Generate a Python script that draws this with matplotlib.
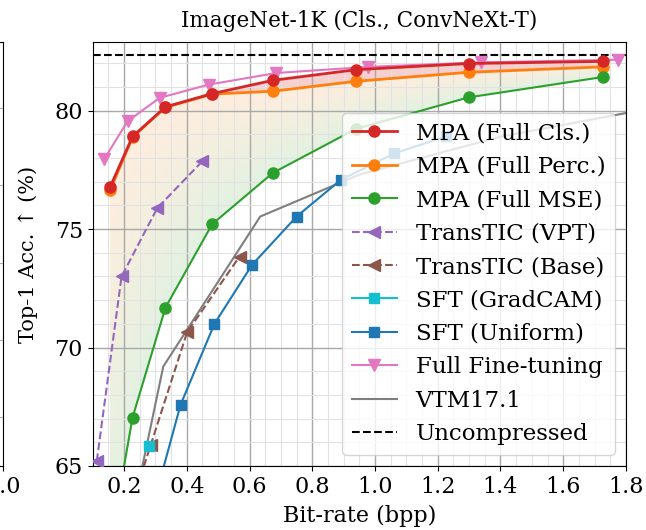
import numpy as np
import matplotlib.pyplot as plt
from matplotlib.colors import to_rgb
from matplotlib.ticker import MultipleLocator

plt.rcParams['font.family'] = ['DejaVu Serif', 'DejaVu Sans']
plt.rcParams['font.size'] = 16

# bit-rate (bpp) vs top-1 accuracy (%)
mpa_bpp = [0.155, 0.227, 0.332, 0.481, 0.674, 0.939, 1.298, 1.726]
mpa_cls = [76.76, 78.91, 80.16, 80.72, 81.28, 81.73, 81.99, 82.08]
mpa_perc = [76.63, 78.88, 80.14, 80.70, 80.82, 81.24, 81.62, 81.85]
mpa_mse = [61.6, 67.04, 71.69, 75.21, 77.37, 79.23, 80.56, 81.42]

vpt_bpp = [0.113, 0.192, 0.306, 0.449]
vpt_acc = [65.21, 73.0, 75.89, 77.86]

base_bpp = [0.22, 0.285, 0.401, 0.568]
base_acc = [63.2, 65.89, 70.65, 73.84]

gradcam_bpp = [0.279]
gradcam_acc = [65.86]

uniform_bpp = [0.29, 0.380, 0.488, 0.608, 0.750, 0.891, 1.062, 1.226]
uniform_acc = [63.2, 67.58, 71.0, 73.49, 75.53, 77.08, 78.2, 78.91]

fft_bpp = [0.137, 0.211, 0.313, 0.470, 0.685, 0.978, 1.338, 1.775]
fft_acc = [77.96, 79.55, 80.54, 81.10, 81.59, 81.85, 82.04, 82.15]

vtm_bpp = [0.23, 0.325, 0.634, 0.95, 1.4, 2.0]
vtm_acc = [63.2, 69.2, 75.53, 77.3, 78.9, 80.4]

uncompressed = 82.35

fig = plt.figure(figsize=(6.46, 5.30), dpi=100)

# right edge of the neighbouring panel
left = fig.add_axes([-0.5, 0.1208, 0.5046, 0.80])
left.set_xlim(0.0, 1.0)
left.set_ylim(0, 424)
left.set_xticks([1.0], ['1.0'])
left.set_yticks([49, 126, 203, 281, 358])
left.grid(True, color='#b0b0b0', lw=0.8)
left.tick_params(labelsize=16, labelleft=False)

ax = fig.add_axes([0.1435, 0.1208, 0.8255, 0.80])

# gradient band between the perceptual and MSE curves
c_top = np.array(to_rgb('C1'))
c_bot = np.array(to_rgb('C2'))
gx = np.linspace(mpa_bpp[0], mpa_bpp[-1], 700)
gy = np.linspace(60, 83, 700)
X, Y = np.meshgrid(gx, gy)
top = np.interp(X, mpa_bpp, mpa_perc)
bot = np.interp(X, mpa_bpp, mpa_mse)
t = (top - Y) / (top - bot)
img = np.zeros(X.shape + (4,))
img[..., :3] = c_top + np.clip(t, 0, 1)[..., None] * (c_bot - c_top)
img[..., 3] = np.where((t >= 0) & (t <= 1), 0.14, 0.0)
ax.imshow(img, extent=(gx[0], gx[-1], gy[0], gy[-1]), origin='lower',
          aspect='auto', interpolation='bilinear', zorder=1)
ax.fill_between(mpa_bpp, mpa_perc, mpa_cls, color='C3', alpha=0.22, lw=0, zorder=1)

ax.plot(mpa_bpp, mpa_cls, '-o', color='C3', lw=2, ms=8, label='MPA (Full Cls.)', zorder=5)
ax.plot(mpa_bpp, mpa_perc, '-o', color='C1', lw=2, ms=8, label='MPA (Full Perc.)', zorder=4)
ax.plot(mpa_bpp, mpa_mse, '-o', color='C2', lw=1.5, ms=8, label='MPA (Full MSE)', zorder=4)
ax.plot(vpt_bpp, vpt_acc, '--<', color='C4', lw=1.5, ms=8, label='TransTIC (VPT)', zorder=3)
ax.plot(base_bpp, base_acc, '--<', color='C5', lw=1.5, ms=8, label='TransTIC (Base)', zorder=3)
ax.plot(gradcam_bpp, gradcam_acc, '-s', color='C9', lw=1.5, ms=7.5, label='SFT (GradCAM)', zorder=3)
ax.plot(uniform_bpp, uniform_acc, '-s', color='C0', lw=1.5, ms=7.5, label='SFT (Uniform)', zorder=3)
ax.plot(fft_bpp, fft_acc, '-v', color='C6', lw=1.5, ms=8, label='Full Fine-tuning', zorder=3)
ax.plot(vtm_bpp, vtm_acc, '-', color='C7', lw=1.5, label='VTM17.1', zorder=2)
ax.axhline(uncompressed, color='black', ls='--', lw=1.5, label='Uncompressed', zorder=2)

ax.set_xlim(0.1, 1.8)
ax.set_ylim(65, 82.9)
ax.xaxis.set_major_locator(MultipleLocator(0.2))
ax.xaxis.set_minor_locator(MultipleLocator(0.05))
ax.yaxis.set_major_locator(MultipleLocator(5))
ax.yaxis.set_minor_locator(MultipleLocator(1))
ax.grid(True, which='major', color='#a8a8a8', lw=1.0)
ax.grid(True, which='minor', color='#e2e2e2', lw=0.8)
ax.tick_params(which='minor', length=0)
ax.tick_params(labelsize=16)

ax.set_title('ImageNet-1K (Cls., ConvNeXt-T)', fontsize=15.5, pad=11)
ax.set_xlabel('Bit-rate (bpp)', fontsize=16, labelpad=5)
ax.set_ylabel('Top-1 Acc. ↑ (%)', fontsize=15, labelpad=12)
ax.legend(loc='lower right', fontsize=16.5, handlelength=2.0)

fig.savefig('out.png', dpi=100)
